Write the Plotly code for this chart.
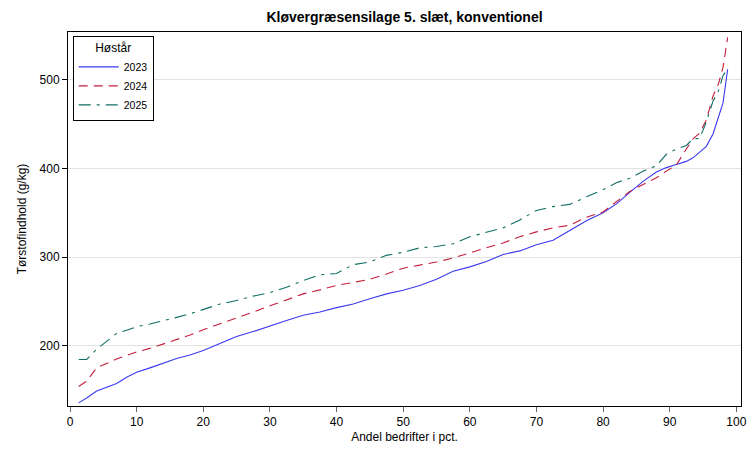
import plotly.graph_objects as go

pct = [1.3, 2.5, 4, 5.5, 7, 8.5, 10, 12, 14, 16, 18, 20, 22.5, 25, 27.5, 30, 32.5, 35, 37.5, 40,
       42.5, 45, 47.5, 50, 52.5, 55, 57.5, 60, 62.5, 65, 67.5, 70, 72.5, 75, 77.5, 80, 82, 84, 86, 88,
       89.5, 91, 92.5, 93.5, 94.5, 95.5, 96.5, 97.3, 98, 98.7]

y2023 = [135.5, 141, 149, 153.6, 157.4, 164.4, 170, 175, 180, 185.5, 189.5, 194.5, 202.5, 210.5, 216, 222.5,
         228.5, 234.5, 238, 243, 247, 253, 258.5, 262.5, 268, 275, 284, 289, 295, 303, 307, 314, 319, 330,
         341, 350, 360, 373, 385.5, 396, 401, 404.5, 408, 412, 418, 425, 439, 458, 474, 512]

y2024 = [154, 160, 175, 180, 185, 189, 193, 197, 202, 207.5, 212, 218, 224.5, 231.5, 238, 245, 252, 258.5,
         263, 268, 271.5, 275, 281, 287.5, 291, 294.5, 299, 305, 310.5, 316, 323, 328.5, 333, 336, 345, 351,
         363, 374, 382, 389.5, 397, 404, 422, 433.5, 440, 455, 481.5, 495, 514, 548]

y2025 = [184.5, 184.5, 196, 204.7, 214, 217.4, 221.5, 224.5, 228, 232, 236, 241, 247, 251, 256, 260, 266,
         273.5, 280, 281.5, 291.5, 294.5, 302, 305.5, 310.5, 312, 315, 323, 328, 333, 342, 352.7, 357, 359.5,
         368, 376, 384, 389, 397, 403, 416, 422, 426, 433.5, 434, 452.7, 476, 487, 505, 512]

series = [
    ("2023", y2023, "#3a3af0", "solid"),
    ("2024", y2024, "#c41e3a", "9px,6px"),
    ("2025", y2025, "#0f6f66", "12px,6px,3px,6px"),
]

fig = go.Figure()
for name, ys, col, dash in series:
    fig.add_trace(go.Scatter(x=pct, y=ys, mode="lines", name=name,
                             line=dict(color=col, width=1.1, dash=dash)))

font_family = "Liberation Sans, Arial, sans-serif"
# page body has an 8px margin, so the figure is sized/placed to compensate
fig.update_layout(
    width=748, height=446,
    margin=dict(l=60, r=15, t=24, b=48),
    paper_bgcolor="white", plot_bgcolor="white",
    font=dict(family=font_family, size=12, color="black"),
    title=dict(text="<b>Kløvergræsensilage 5. slæt, konventionel</b>",
               x=0.5, xref="paper", xanchor="center", y=0.98, yanchor="middle",
               font=dict(size=14, family=font_family, color="black")),
    showlegend=True,
    legend=dict(x=0.007, y=0.99, xanchor="left", yanchor="top",
                bordercolor="black", borderwidth=1, bgcolor="white",
                title=dict(text="Høstår", side="top center", font=dict(size=12)),
                font=dict(size=10.5), tracegroupgap=0, itemwidth=40),
)
fig.update_xaxes(range=[-0.3, 100.7], tickvals=list(range(0, 101, 10)), automargin=False,
                 showline=True, linecolor="black", linewidth=1, mirror=True,
                 ticks="outside", ticklen=5, tickcolor="#666666",
                 showgrid=False, zeroline=False,
                 title=dict(text="Andel bedrifter i pct.", standoff=4, font=dict(size=12)),
                 tickfont=dict(size=12))
fig.update_yaxes(range=[132, 554], tickvals=[200, 300, 400, 500], automargin=False,
                 showline=True, linecolor="black", linewidth=1, mirror=True,
                 ticks="outside", ticklen=5, tickcolor="black",
                 showgrid=True, gridcolor="#e2e2e2", gridwidth=1, zeroline=False,
                 title=dict(text="Tørstofindhold (g/kg)", standoff=10, font=dict(size=12)),
                 tickfont=dict(size=12))

fig.write_html("out.html")
